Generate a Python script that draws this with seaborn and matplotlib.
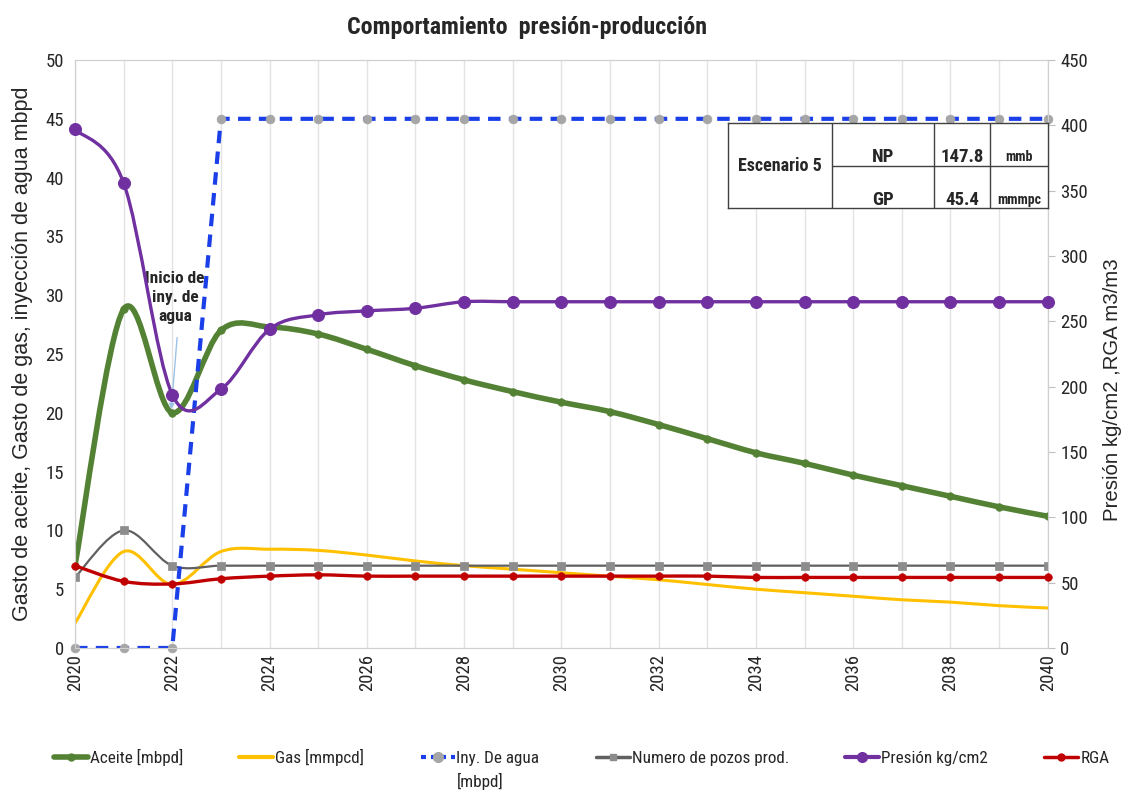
import matplotlib

matplotlib.use("Agg")

import matplotlib.pyplot as plt
import numpy as np
import pandas as pd
import seaborn as sns
from matplotlib.lines import Line2D
from matplotlib.path import Path
from matplotlib.patches import PathPatch


years = list(range(2020, 2041))

aceite = [7.0, 28.8, 20.0, 27.0, 27.3, 26.7, 25.4, 24.0, 22.8, 21.8, 20.9,
          20.1, 19.0, 17.8, 16.6, 15.7, 14.7, 13.8, 12.9, 12.0, 11.2]
gas = [2.1, 8.2, 5.4, 8.2, 8.4, 8.3, 7.9, 7.4, 7.0, 6.7, 6.4,
       6.1, 5.8, 5.4, 5.0, 4.7, 4.4, 4.1, 3.9, 3.6, 3.4]
iny_agua = [0, 0, 0, 45, 45, 45, 45, 45, 45, 45, 45,
            45, 45, 45, 45, 45, 45, 45, 45, 45, 45]
pozos = [6, 10, 7, 7, 7, 7, 7, 7, 7, 7, 7,
         7, 7, 7, 7, 7, 7, 7, 7, 7, 7]
presion = [397, 356, 194, 198, 244, 255, 258, 260, 265, 265, 265,
           265, 265, 265, 265, 265, 265, 265, 265, 265, 265]
rga = [63, 51, 49, 53, 55, 56, 55, 55, 55, 55, 55,
       55, 55, 55, 54, 54, 54, 54, 54, 54, 54]

tabla = [["Escenario 5", "NP", "147.8", "mmb"],
         ["", "GP", "45.4", "mmmpc"]]

df = pd.DataFrame({"year": years, "aceite": aceite, "gas": gas, "iny": iny_agua,
                   "pozos": pozos, "presion": presion, "rga": rga})

sns.set_style("white")
NARROW = ["Liberation Sans Narrow", "Arial Narrow", "Roboto Condensed",
          "Archivo Narrow", "Liberation Sans", "DejaVu Sans"]
REGULAR = ["Liberation Sans", "DejaVu Sans"]
plt.rcParams["font.family"] = NARROW


def smooth_curve(ax, x, y, color, lw, z):
    # curva suavizada tipo Excel (Catmull-Rom -> Bezier)
    p = np.column_stack([x, y]).astype(float)
    n = len(p)
    verts = [tuple(p[0])]
    codes = [Path.MOVETO]
    for i in range(n - 1):
        a = p[i - 1] if i > 0 else p[i]
        d = p[i + 2] if i + 2 < n else p[i + 1]
        c1 = p[i] + (p[i + 1] - a) / 6.0
        c2 = p[i + 1] - (d - p[i]) / 6.0
        verts += [tuple(c1), tuple(c2), tuple(p[i + 1])]
        codes += [Path.CURVE4] * 3
    patch = PathPatch(Path(verts, codes), facecolor="none", edgecolor=color,
                      lw=lw, zorder=z, capstyle="round", joinstyle="round")
    ax.add_patch(patch)


fig = plt.figure(figsize=(11.29, 7.94), dpi=100)
ax = fig.add_axes([0.0664, 0.1839, 0.8616, 0.7405])
ax2 = ax.twinx()

green = "#548235"
yellow = "#FFC000"
blue = "#1A3FE8"
gray = "#606060"
purple = "#7030A0"
red = "#C00000"

# eje izquierdo
smooth_curve(ax, df["year"], df["aceite"], green, 4.0, 3)
sns.scatterplot(data=df, x="year", y="aceite", ax=ax, color=green, s=30,
                edgecolor=green, zorder=4, legend=False)
smooth_curve(ax, df["year"], df["gas"], yellow, 2.2, 3)
sns.lineplot(data=df, x="year", y="iny", ax=ax, color=blue, lw=3,
             linestyle=(0, (3, 2)), zorder=5, legend=False)
sns.scatterplot(data=df, x="year", y="iny", ax=ax, color="#A6A6A6", s=40,
                edgecolor="#A6A6A6", zorder=6, legend=False, clip_on=False)
smooth_curve(ax, df["year"], df["pozos"], gray, 1.6, 3)
sns.scatterplot(data=df, x="year", y="pozos", ax=ax, color="#8C8C8C", marker="s",
                s=40, edgecolor="#8C8C8C", zorder=4, legend=False)

# eje derecho
smooth_curve(ax2, df["year"], df["presion"], purple, 2.4, 3)
sns.scatterplot(data=df, x="year", y="presion", ax=ax2, color=purple, s=75,
                edgecolor=purple, zorder=4, legend=False, clip_on=False)
smooth_curve(ax2, df["year"], df["rga"], red, 2.4, 3)
sns.scatterplot(data=df, x="year", y="rga", ax=ax2, color=red, s=30,
                edgecolor=red, zorder=4, legend=False, clip_on=False)

ax.set_xlim(2020, 2040)
ax.set_ylim(0, 50)
ax2.set_ylim(0, 450)
ax.set_xticks(range(2020, 2041, 2))
ax.set_xticks(range(2020, 2041), minor=True)
ax.set_yticks(range(0, 51, 5))
ax2.set_yticks(range(0, 451, 50))
ax.grid(True, axis="x", which="both", color="#E3E3E3", lw=1)
ax.set_axisbelow(True)
ax.tick_params(axis="x", rotation=90, labelsize=13.5, length=0, pad=4)
ax.tick_params(axis="x", which="minor", length=0)
ax.tick_params(axis="y", labelsize=13.5, length=0, pad=8)
ax2.tick_params(axis="y", labelsize=13.5, length=5, color="#BFBFBF", pad=4)
for a in (ax, ax2):
    for s in ["top", "left", "right", "bottom"]:
        a.spines[s].set_color("#D0D0D0")
ax.set_xlabel("")
ax.set_ylabel("Gasto de aceite, Gasto de gas, inyección de agua mbpd",
              fontsize=15.5, labelpad=9, family=REGULAR)
ax2.set_xlabel("")
ax2.set_ylabel("Presión kg/cm2 ,RGA m3/m3", fontsize=14.7, family=REGULAR)
ax2.yaxis.set_label_coords(1.057, 0.44)

fig.suptitle("Comportamiento  presión-producción", fontsize=17.3, fontweight="bold",
             x=0.467, y=0.98)

# anotación de inicio de inyección
ax.text(2022.06, 29.8, "Inicio de\niny. de\nagua", ha="center", va="center",
        fontsize=12.5, fontweight="bold", linespacing=1.3, zorder=10)
ax.annotate("", xy=(2021.98, 20.3), xytext=(2022.10, 26.4),
            arrowprops=dict(arrowstyle="-|>", color="#9DC3E6", lw=1,
                            shrinkA=0, shrinkB=0, mutation_scale=8),
            zorder=10)

# tabla de resumen
tab = fig.add_axes([0.6448, 0.738, 0.2835, 0.1071])
tab.set_xlim(0, 1)
tab.set_ylim(0, 1)
tab.set_facecolor("white")
tab.set_xticks([])
tab.set_yticks([])
for s in tab.spines.values():
    s.set_color("#404040")
    s.set_linewidth(1)
tab.set_zorder(20)
cols = [0.325, 0.644, 0.819]
for c in cols:
    tab.plot([c, c], [0, 1], color="#404040", lw=1)
tab.plot([cols[0], 1], [0.494, 0.494], color="#404040", lw=1)
tab.text(0.1625, 0.5, tabla[0][0], ha="center", va="center", fontsize=13, fontweight="bold")
centers = [0.4845, 0.7315, 0.9095]
for r, yy in enumerate([0.6, 0.1]):
    for j in range(1, 4):
        fs = 10 if j == 3 else 13.5
        tab.text(centers[j - 1], yy, tabla[r][j], ha="center", va="center",
                 fontsize=fs, fontweight="bold")

handles = [
    Line2D([], [], color=green, lw=4, marker="o", ms=5),
    Line2D([], [], color=yellow, lw=3),
    Line2D([], [], color=blue, lw=3, linestyle=(0, (1.2, 1.2)), marker="o",
           ms=7, mfc="#A6A6A6", mec="#A6A6A6"),
    Line2D([], [], color=gray, lw=2.5, marker="s", ms=5, mfc="#8C8C8C", mec="#8C8C8C"),
    Line2D([], [], color=purple, lw=3, marker="o", ms=7),
    Line2D([], [], color=red, lw=2.5, marker="o", ms=5),
]
labels = ["Aceite [mbpd]", "Gas [mmpcd]", "Iny. De agua",
          "Numero de pozos prod.", "Presión kg/cm2", "RGA"]
leg = fig.legend(handles, labels, loc="center", bbox_to_anchor=(0.515, 1 - 757 / 794),
                 ncol=6, frameon=False, fontsize=12.3, handlelength=2.0,
                 handletextpad=0.1, columnspacing=3.3)

# segunda línea de la etiqueta de inyección
fig.canvas.draw()
bb = leg.get_texts()[2].get_window_extent()
fig.text(bb.x0 / fig.bbox.width, (bb.y0 - 7) / fig.bbox.height, "[mbpd]",
         ha="left", va="top", fontsize=12.3)

fig.savefig("out.png", dpi=100)
